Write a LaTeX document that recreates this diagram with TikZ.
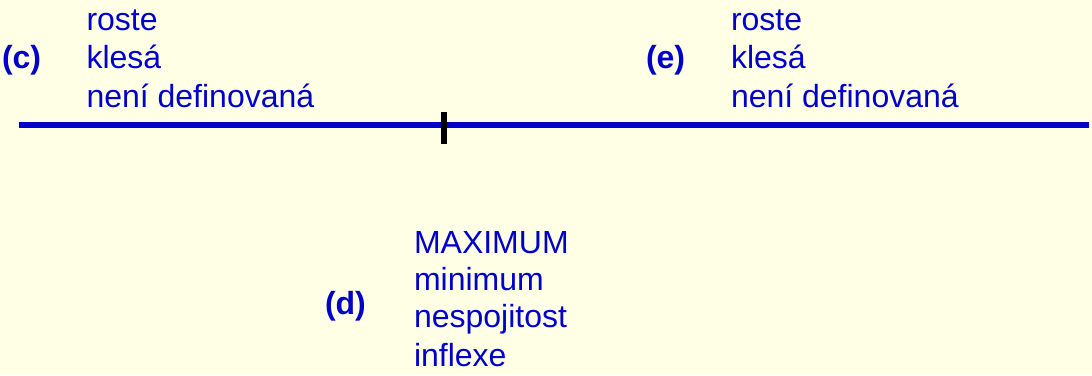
\documentclass[tikz,border=0pt]{standalone}
\usepackage{fontspec}
\setmainfont{Liberation Sans}
\definecolor{bgcream}{RGB}{255,255,230}
\definecolor{txtblue}{RGB}{0,0,204}
\begin{document}
\begin{tikzpicture}[x=1pt,y=-1pt,
  lbl/.style={anchor=base west,inner sep=0pt,outer sep=0pt,text=txtblue,font=\fontsize{32}{38}\selectfont},
  tag/.style={lbl,font=\fontsize{32}{38}\selectfont\bfseries},
  axisline/.style={draw=txtblue,line width=6pt},
  tickmark/.style={draw=black,line width=6pt}]
\fill[bgcream] (0,0) rectangle (1092,375);
\useasboundingbox (0,0) rectangle (1092,375);
% axis
\coordinate (axL) at (19,125);
\coordinate (axR) at (1089,125);
\draw[axisline] (axL) -- (axR);
\coordinate (tkT) at (444,112);
\coordinate (tkB) at (444,143.5);
\draw[tickmark] (tkT) -- (tkB);
% (c)
\node[tag] (c) at (2,68.5) {(c)};
\node[lbl] (c1) at (86.5,30) {roste};
\node[lbl] (c2) at (86.5,68.5) {klesá};
\node[lbl] (c3) at (86.5,107) {není definovaná};
% (e)
\node[tag] (e) at (646,68.5) {(e)};
\node[lbl] (e1) at (731,30) {roste};
\node[lbl] (e2) at (731,68.5) {klesá};
\node[lbl] (e3) at (731,107) {není definovaná};
% (d)
\node[tag] (d) at (325,314) {(d)};
\node[lbl] (d1) at (414,253) {MAXIMUM};
\node[lbl] (d2) at (414,290) {minimum};
\node[lbl] (d3) at (414,327) {nespojitost};
\node[lbl] (d4) at (414,366) {inflexe};
\end{tikzpicture}
\end{document}
